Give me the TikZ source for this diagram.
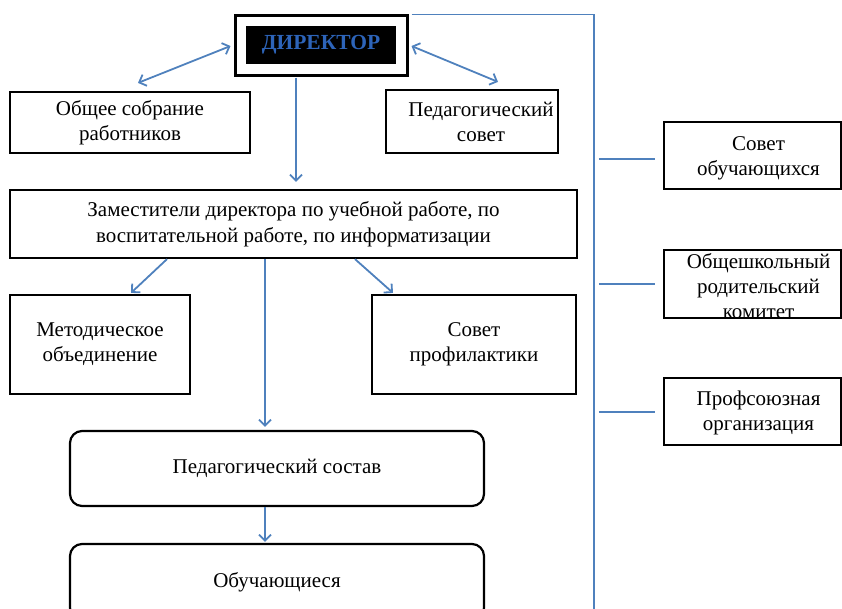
\documentclass[tikz,border=0pt]{standalone}
\usepackage{fontspec}
\setmainfont{Liberation Serif}
\usetikzlibrary{arrows.meta,calc}

\begin{document}
\begin{tikzpicture}[x=1pt,y=-1pt,
    big/.style={font=\fontsize{21}{25}\selectfont},
    box/.style={draw, line width=2.2pt, align=center, inner sep=0pt, big},
    rbox/.style={box, rounded corners=12pt},
    lbl/.style={align=center, inner sep=0pt, big},
    link/.style={draw=linkblue, line width=1.8pt},
    arr/.style={link, -{Straight Barb[length=6pt,width=12pt]}},
    dbl/.style={link, {Straight Barb[length=6pt,width=12pt]}-{Straight Barb[length=6pt,width=12pt]}}]
        \definecolor{linkblue}{RGB}{79,129,189}
        \definecolor{dirblue}{RGB}{45,100,185}
            \useasboundingbox (0,0) rectangle (842,608);

            % director
            \node[draw, line width=3pt, minimum width=172pt, minimum height=60pt] (dir) at (321,45) {};
            \node[fill=black, minimum width=150pt, minimum height=38pt, text=dirblue,
                  font=\fontsize{21.5}{25}\selectfont\bfseries] (dirlbl) at (dir.center) {ДИРЕКТОР};

            \node[box, minimum width=240pt, minimum height=61pt] (sobr) at (130,122.5) {Общее собрание\\работников};
            \node[box, minimum width=172pt, minimum height=63pt] (pedsov) at (472,121.5) {};
            \node[lbl] (pedsovlbl) at ($(pedsov.center)+(9,0)$) {Педагогический\\совет};

            \node[box, minimum width=567pt, minimum height=68pt, font=\fontsize{21}{26}\selectfont] (zam) at (293.5,224)
                {Заместители директора по учебной работе, по\\воспитательной работе, по информатизации};

            \node[box, minimum width=180pt, minimum height=99pt] (metod) at (100,344.5) {Методическое\\объединение};
            \node[box, minimum width=204pt, minimum height=99pt] (prof) at (474,344.5) {Совет\\профилактики};

            \node[rbox, minimum width=414pt, minimum height=75pt] (sostav) at (277,468.5) {Педагогический состав};
            \node[rbox, minimum width=414pt, minimum height=76pt] (obuch) at (277,582) {Обучающиеся};

            % right column
            \node[box, minimum width=177pt, minimum height=67pt] (sovob) at (752.5,155.5) {};
            \node[lbl] (sovoblbl) at ($(sovob.center)+(6,3)$) {Совет\\обучающихся};
            \node[box, minimum width=177pt, minimum height=68pt] (komit) at (752.5,284) {};
            \node[lbl] (komitlbl) at ($(komit.center)+(6,2)$) {Общешкольный\\родительский\\комитет};
            \node[box, minimum width=177pt, minimum height=67pt] (profs) at (752.5,411.5) {};
            \node[lbl] (profslbl) at ($(profs.center)+(6,1)$) {Профсоюзная\\организация};

            % links
            \draw[dbl] ($(dir.west)+(-3,1)$) -- ($(sobr.north)+(8,-8)$);
            \draw[dbl] ($(dir.east)+(3,1)$) -- ($(pedsov.north)+(26,-7)$);
            \draw[arr] ($(dir.south)+(-25,1)$) -- ($(dir.south |- zam.north)+(-25,-7)$);
            \draw[arr] ($(zam.south)+(-126.5,0)$) -- ($(metod.north)+(31,-1)$);
            \draw[arr] ($(zam.south)+(61.5,0)$) -- ($(prof.north)+(-81,-1)$);
            \draw[arr] ($(zam.south)+(-28.5,0)$) -- ($(sostav.north)+(-12,-3)$);
            \draw[arr] ($(sostav.south)+(-12,0)$) -- ($(obuch.north)+(-12,-1)$);

            \coordinate (rail) at (594,620);
            \draw[link] ($(dir.north east)+(3,1)$) -| (rail);
            \draw[link] ($(sovob.west)+(-64,3.5)$) -- ($(sovob.west)+(-8,3.5)$);
            \draw[link] ($(komit.west)+(-64,0)$) -- ($(komit.west)+(-8,0)$);
            \draw[link] ($(profs.west)+(-64,0.5)$) -- ($(profs.west)+(-8,0.5)$);
\end{tikzpicture}
\end{document}
